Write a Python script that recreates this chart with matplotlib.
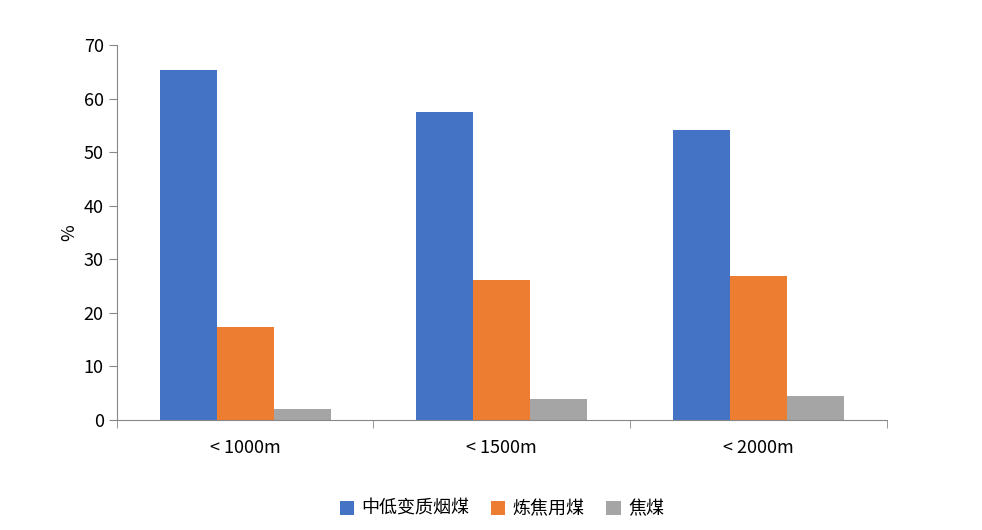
import matplotlib.pyplot as plt
import numpy as np
plt.rcParams['font.family'] = ['Noto Sans CJK SC', 'DejaVu Sans']

categories = ['< 1000m', '< 1500m', '< 2000m']
series_names = ['中低变质烟煤', '炼焦用煤', '焦煤']
low_rank = [65.3, 57.5, 54.2]
coking = [17.3, 26.1, 26.9]
coke = [2.1, 4.0, 4.4]
colors = ['#4472C4', '#ED7D31', '#A5A5A5']

fig = plt.figure(figsize=(9.82, 5.30), dpi=100)
ax = fig.add_axes([0.119, 0.2075, 0.784, 0.7075])
x = np.arange(len(categories))
w = 0.222
for i, (vals, name) in enumerate(zip([low_rank, coking, coke], series_names)):
    ax.bar(x + (i - 1) * w, vals, w, color=colors[i], label=name)
ax.set_xlim(-0.5, 2.5)
ax.set_ylim(0, 70)
ax.set_yticks(range(0, 71, 10))
ax.set_xticks(x)
ax.set_xticklabels(categories)
ax.set_xticks([-0.5, 0.5, 1.5, 2.5], minor=True)
ax.tick_params(axis='x', which='major', length=0, pad=14, labelsize=13)
ax.tick_params(axis='x', which='minor', length=6, color='#888888')
ax.tick_params(axis='y', length=6, color='#888888', labelsize=13)
for s in ['top', 'right']:
    ax.spines[s].set_visible(False)
for s in ['left', 'bottom']:
    ax.spines[s].set_color('#888888')
ax.set_ylabel('%', fontsize=13)
ax.legend(loc='upper center', bbox_to_anchor=(0.5, -0.17), ncol=3, frameon=False,
          fontsize=13, handlelength=0.8, handleheight=0.8, columnspacing=1.2, handletextpad=0.4)
fig.savefig('out.png', dpi=100)
